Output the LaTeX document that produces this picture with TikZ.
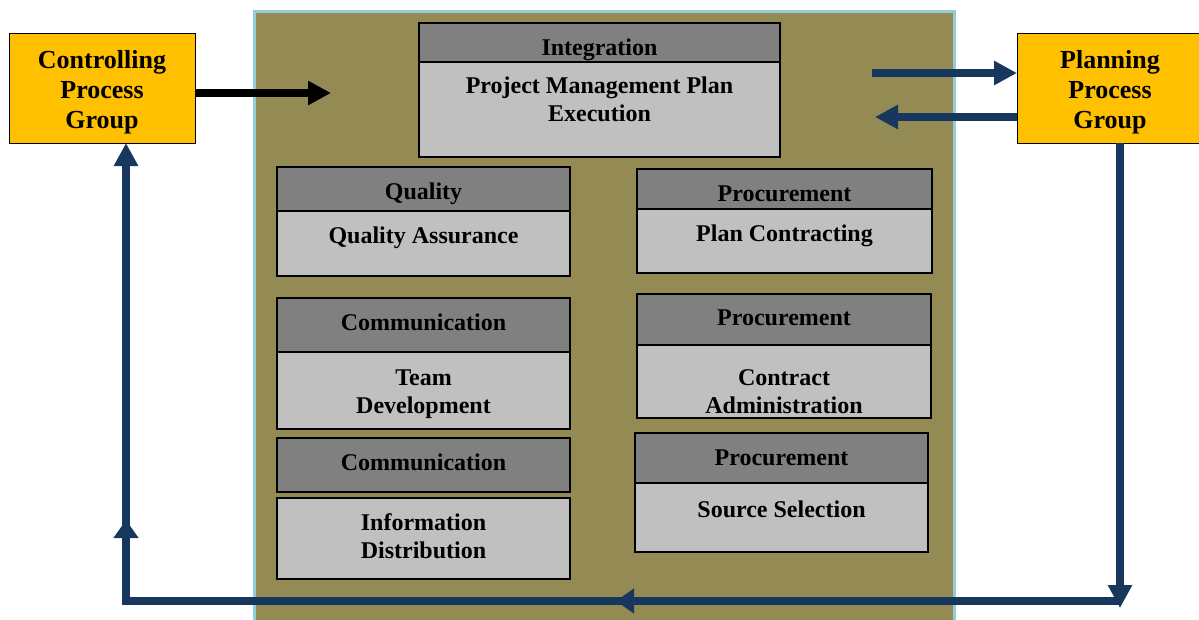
\documentclass[tikz,border=0pt]{standalone}
\usepackage{fontspec}
\setmainfont{Liberation Serif}
\usetikzlibrary{positioning,arrows.meta,decorations.markings}
\definecolor{olivebg}{RGB}{148,138,84}
\definecolor{procgold}{RGB}{255,192,0}
\definecolor{hdrgray}{RGB}{128,128,128}
\definecolor{bodygray}{RGB}{192,192,192}
\definecolor{loopblue}{RGB}{23,55,94}
\definecolor{edgeblue}{RGB}{146,205,220}
\tikzset{group/.style={draw,fill=procgold,line width=1pt,outer sep=0pt,align=center,
		minimum width=186pt,minimum height=110pt,font=\fontsize{26}{30}\selectfont\bfseries},
	hdr/.style={draw,fill=hdrgray,line width=1.3pt,outer sep=0pt,align=center,
		font=\fontsize{24}{28}\selectfont\bfseries},
	body/.style={hdr,fill=bodygray},
	% text baseline sits #1/2 below the box centre
	drop/.style={inner ysep=0pt,text height=#1,text depth=0pt},
	flow/.style={line width=7.5pt,draw=loopblue,-{Triangle[length=23pt,width=23pt]}},
	midtip/.style={postaction={decorate,decoration={markings,
		mark=at position #1 with {\arrow[loopblue]{Triangle[length=18pt,width=24pt]}}}}}}

\begin{document}
\begin{tikzpicture}[x=1pt,y=-1pt]
\useasboundingbox (0,0) rectangle (1199,619);
% execution area
\node [draw=edgeblue,fill=olivebg,line width=2.5pt,anchor=north west,
  minimum width=700pt,minimum height=630pt] (exec) at (253,10) {};

% process groups
\node [group,drop=80pt] (ctrl) at (102,88) {Controlling\\Process\\Group};
\node [group,drop=80pt] (plan) at (1110,88) {Planning\\Process\\Group};

% knowledge areas
\node [hdr,drop=25pt,minimum width=361pt,minimum height=39pt] (ih) at (599.5,42.5) {Integration};
\node [body,drop=23pt,minimum width=361pt,minimum height=95pt,below=0pt of ih] (ib)
  {Project Management Plan\\Execution};

\node [hdr,drop=20pt,minimum width=293pt,minimum height=44pt] (qh) at (423.5,189) {Quality};
\node [body,drop=0pt,minimum width=293pt,minimum height=65pt,below=0pt of qh] (qb) {Quality Assurance};

\node [hdr,drop=10pt,minimum width=293pt,minimum height=54pt] (ch) at (423.5,325) {Communication};
\node [body,drop=45pt,minimum width=293pt,minimum height=77pt,below=0pt of ch] (cb) {Team\\Development};

\node [hdr,drop=10pt,minimum width=293pt,minimum height=54pt] (dh) at (423.5,465) {Communication};
\node [body,drop=39pt,minimum width=293pt,minimum height=81pt,below=6pt of dh] (db) {Information\\Distribution};

\node [hdr,drop=24pt,minimum width=295pt,minimum height=40pt] (ph) at (784.5,189) {Procurement};
\node [body,drop=1pt,minimum width=295pt,minimum height=64pt,below=0pt of ph] (pb) {Plan Contracting};

\node [hdr,drop=12pt,minimum width=294pt,minimum height=51pt] (ah) at (784,319.5) {Procurement};
\node [body,drop=63pt,minimum width=294pt,minimum height=73pt,below=0pt of ah] (ab) {Contract\\Administration};

\node [hdr,drop=14pt,minimum width=293pt,minimum height=50pt] (sh) at (781.5,458) {Procurement};
\node [body,drop=0pt,minimum width=293pt,minimum height=69pt,below=0pt of sh] (sb) {Source Selection};

% arrows
\coordinate (into) at (331,93);
\coordinate (toplan) at (872,73);
\coordinate (fromplan) at (875,117);
\coordinate (down) at (1120,608);
\coordinate (br) at (1120,601);
\coordinate (bl) at (126,601);
\draw [flow,draw=black] ([yshift=-5pt]ctrl.east) -- (into);
\draw [flow] (toplan) -- ([yshift=15pt]plan.west);
\draw [flow] ([yshift=-29pt]plan.west) -- (fromplan);
\draw [flow] ([xshift=10pt]plan.south) -- (down);
\draw [flow,line join=miter,midtip=504pt,midtip=1075pt] (br) -- (bl) -- ([xshift=24pt]ctrl.south);
\end{tikzpicture}
\end{document}
